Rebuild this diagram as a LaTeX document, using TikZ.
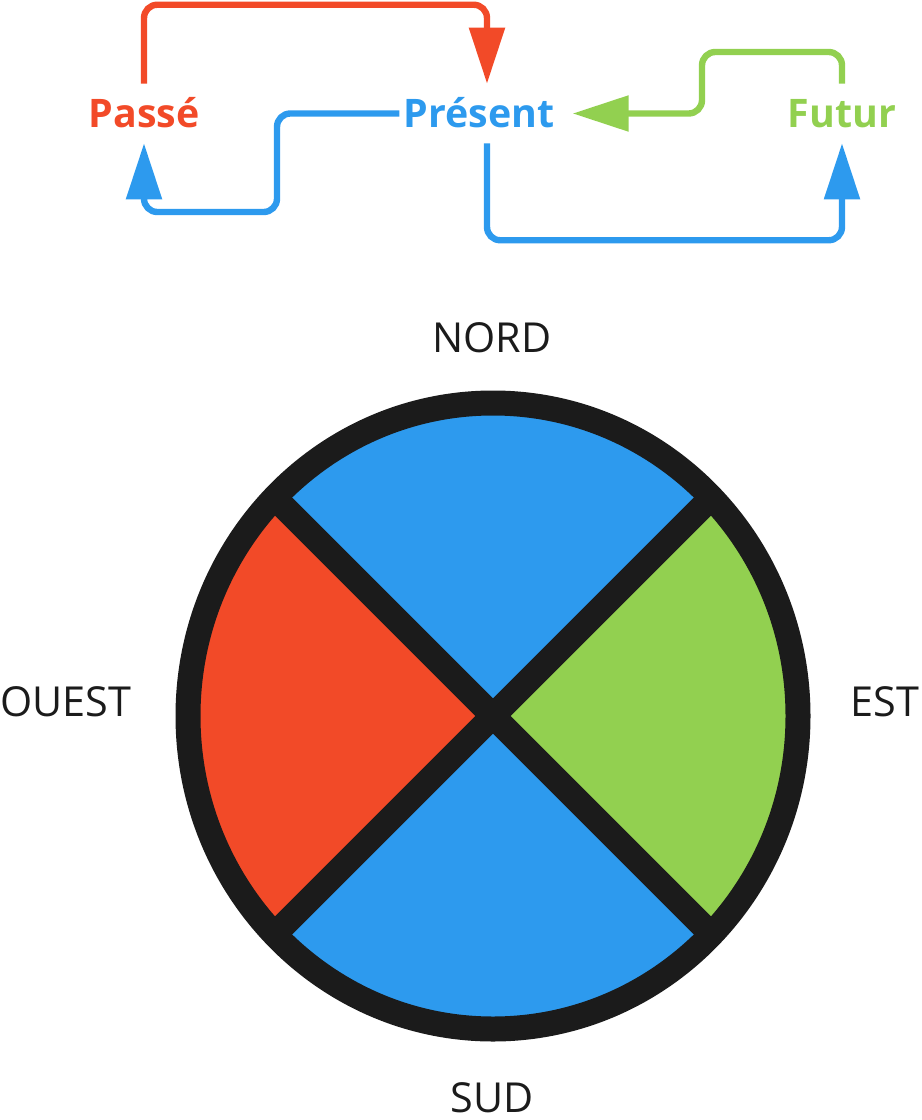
\documentclass[tikz,border=0pt]{standalone}
\usepackage{fontspec}
\setmainfont{Open Sans}
\usepackage{tikz}
\usetikzlibrary{arrows.meta, calc}
\definecolor{rouge}{HTML}{F24A28}
\definecolor{bleu}{HTML}{2D9AEE}
\definecolor{vert}{HTML}{92D050}
\definecolor{noir}{HTML}{1B1B1B}
\tikzstyle{temps}=[font = \fontsize{29.5}{31}\bfseries\selectfont, anchor = base, inner xsep = 3pt, inner ysep = 0pt, text height = 33pt, text depth = 11.25pt]
\tikzstyle{point}=[font = \fontsize{31}{33}\selectfont, text = noir, anchor = base, inner sep = 0pt]
\tikzstyle{fl}=[line width = 4.8pt, rounded corners = 10pt, -{Triangle[length = 42pt, width = 26pt]}]
\tikzstyle{trait}=[line width = 18.75pt, color = noir]

\begin{document}
\begin{tikzpicture}[x = .75pt, y = -.75pt]
\useasboundingbox (0, 0) rectangle (921, 1120);
\node (passe) at (144, 128) [temps, text = rouge] {Passé};
\node (present) at (479, 128) [temps, text = bleu] {Présent};
\node (futur) at (842, 128) [temps, text = vert] {Futur};
%%%%%%%%%%%%%%%%%%%%%%%
\draw [fl, rouge] (passe.north) -- ++(0, -79) -| ([xshift = 6pt]present.north);
\draw [fl, bleu] (present.west) -| (277, 212) -| (passe.south);
\draw [fl, bleu] ([xshift = 6pt]present.south) -- ++(0, 97) -| (futur.south);
\draw [fl, vert] (futur.north) |- (702, 52) |- ([xshift = 10.5pt]present.east);
%%%%%%%%%%%%%%%%%%%%%%%
\coordinate (c) at (493, 716);
\begin{scope}
\clip (c) ellipse [x radius = 305, y radius = 313];
\fill [bleu] (c) ellipse [x radius = 305, y radius = 313];
\fill [rouge] (c) -- ($(c)+(-400, -400)$) -- ($(c)+(-400, 400)$) -- cycle;
\fill [vert] (c) -- ($(c)+(400, -400)$) -- ($(c)+(400, 400)$) -- cycle;
\draw [trait] ($(c)+(-400, -400)$) to ($(c)+(400, 400)$);
\draw [trait] ($(c)+(400, -400)$) to ($(c)+(-400, 400)$);
\end{scope}
\draw [trait] (c) ellipse [x radius = 305, y radius = 313];
%%%%%%%%%%%%%%%%%%%%%%%
\node (nord) at (492, 352) [point] {NORD};
\node (sud) at (492, 1112) [point] {SUD};
\node (ouest) at (66, 716) [point] {OUEST};
\node (est) at (885, 716) [point] {EST};
\end{tikzpicture}
\end{document}
